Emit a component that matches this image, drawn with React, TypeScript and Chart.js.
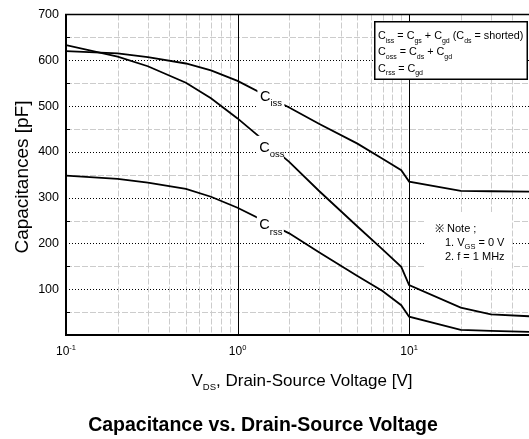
import React, { useEffect, useRef } from "react";
import { Chart, registerables } from "chart.js";

Chart.register(...registerables);

// ---- data ----
const vds = [0.1, 0.2, 0.3, 0.5, 0.7, 1, 2, 3, 5, 7, 9, 10, 20, 30, 50];
const ciss = [620, 615, 607, 593, 578, 555, 497, 461, 418, 385, 360, 335, 315, 314, 313];
const coss = [633, 608, 587, 551, 517, 473, 378, 314, 237, 187, 149, 109, 60, 45, 41];
const crss = [348, 341, 333, 319, 302, 278, 222, 180, 129, 96, 65, 40, 11, 9, 7];

const yMajorTicks = [100, 200, 300, 400, 500, 600, 700];
const yMinorTicks = [50, 150, 250, 350, 450, 550, 650];
const xMajorTicks = [0.1, 1, 10];
const xMajorExp = ["-1", "0", "1"];
const xMinorTicks = [0.2, 0.3, 0.4, 0.5, 0.6, 0.7, 0.8, 0.9, 2, 3, 4, 5, 6, 7, 8, 9, 20, 30, 40];

const curveNames = [["C", "iss"], ["C", "oss"], ["C", "rss"]];
const labelAnchorX = [1.35, 1.34, 1.34];
const labelAnchorY = [512, 400, 231];

const FONT = '"Liberation Sans", Arial, Helvetica, sans-serif';

type Seg = { t: string; sub?: boolean };

function drawRich(ctx: CanvasRenderingContext2D, segs: Seg[], x: number, y: number, size: number, subSize: number, subDy: number) {
  let cx = x;
  for (const s of segs) {
    ctx.font = `${s.sub ? subSize : size}px ${FONT}`;
    ctx.fillText(s.t, cx, s.sub ? y + subDy : y);
    cx += ctx.measureText(s.t).width;
  }
  return cx - x;
}

function richWidth(ctx: CanvasRenderingContext2D, segs: Seg[], size: number, subSize: number) {
  let w = 0;
  for (const s of segs) {
    ctx.font = `${s.sub ? subSize : size}px ${FONT}`;
    w += ctx.measureText(s.t).width;
  }
  return w;
}

const decor = {
  id: "decor",
  beforeDatasetsDraw(chart: any) {
    const { ctx, chartArea: a, scales } = chart;
    const x = scales.x;
    const y = scales.y;
    ctx.save();
    ctx.lineWidth = 1;
    // minor grid (light gray dashed)
    ctx.strokeStyle = "#cccccc";
    ctx.setLineDash([6, 2]);
    for (const v of yMinorTicks) {
      const py = Math.round(y.getPixelForValue(v)) + 0.5;
      ctx.beginPath(); ctx.moveTo(a.left, py); ctx.lineTo(a.right, py); ctx.stroke();
    }
    for (const v of xMinorTicks) {
      const px = Math.round(x.getPixelForValue(v)) + 0.5;
      ctx.beginPath(); ctx.moveTo(px, a.top); ctx.lineTo(px, a.bottom); ctx.stroke();
    }
    // major horizontal grid (black dotted)
    ctx.strokeStyle = "#000";
    ctx.setLineDash([1, 2]);
    for (const v of yMajorTicks) {
      if (v >= 700) continue;
      const py = Math.round(y.getPixelForValue(v)) + 0.5;
      ctx.beginPath(); ctx.moveTo(a.left, py); ctx.lineTo(a.right, py); ctx.stroke();
    }
    // major vertical grid (solid)
    ctx.setLineDash([]);
    for (const v of [1, 10]) {
      const px = Math.round(x.getPixelForValue(v)) + 0.5;
      ctx.beginPath(); ctx.moveTo(px, a.top); ctx.lineTo(px, a.bottom); ctx.stroke();
    }
    // left inner minor ticks
    ctx.lineWidth = 1;
    for (const v of yMinorTicks) {
      const py = Math.round(y.getPixelForValue(v)) + 0.5;
      ctx.beginPath(); ctx.moveTo(a.left, py); ctx.lineTo(a.left + 4, py); ctx.stroke();
    }

    // formula box
    ctx.fillStyle = "#fff";
    ctx.fillRect(374, 21, 154, 59);
    ctx.lineWidth = 1.5;
    ctx.strokeStyle = "#000";
    ctx.strokeRect(374.75, 21.75, 152.5, 57.5);
    ctx.fillStyle = "#000";
    ctx.textBaseline = "alphabetic";
    ctx.textAlign = "left";
    const fs = 10.8, ss = 7, sd = 3.5;
    drawRich(ctx, [{ t: "C" }, { t: "iss", sub: true }, { t: " = C" }, { t: "gs", sub: true }, { t: " + C" }, { t: "gd", sub: true }, { t: " (C" }, { t: "ds", sub: true }, { t: " = shorted)" }], 378, 39, fs, ss, sd);
    drawRich(ctx, [{ t: "C" }, { t: "oss", sub: true }, { t: " = C" }, { t: "ds", sub: true }, { t: " + C" }, { t: "gd", sub: true }], 378, 55, fs, ss, sd);
    drawRich(ctx, [{ t: "C" }, { t: "rss", sub: true }, { t: " = C" }, { t: "gd", sub: true }], 378, 71.5, fs, ss, sd);

    // note area
    ctx.fillStyle = "#fff";
    ctx.fillRect(424, 212, 88, 56);
    ctx.fillStyle = "#000";
    ctx.font = `11px ${FONT}`;
    ctx.fillText("\u203B Note ;", 435, 232);
    drawRich(ctx, [{ t: "1. V" }, { t: "GS", sub: true }, { t: " = 0 V" }], 445, 246, 11, 7.5, 3);
    ctx.font = `11px ${FONT}`;
    ctx.fillText("2. f = 1 MHz", 445, 260);
    ctx.restore();
  },
  afterDatasetsDraw(chart: any) {
    const { ctx, chartArea: a, scales } = chart;
    const x = scales.x;
    const y = scales.y;
    ctx.save();
    // curve labels with white backgrounds
    for (let i = 0; i < curveNames.length; i++) {
      const lx = x.getPixelForValue(labelAnchorX[i]);
      const ly = y.getPixelForValue(labelAnchorY[i]);
      ctx.fillStyle = "#fff";
      ctx.fillRect(lx - 2.5, ly - 16, 27, 24);
      ctx.fillStyle = "#000";
      ctx.textAlign = "left";
      ctx.textBaseline = "alphabetic";
      drawRich(ctx, [{ t: curveNames[i][0] }, { t: curveNames[i][1], sub: true }], lx, ly, 14.5, 9.5, 5.5);
    }

    // axes frame
    ctx.strokeStyle = "#000";
    ctx.setLineDash([]);
    ctx.lineWidth = 2;
    ctx.beginPath(); ctx.moveTo(a.left, a.top); ctx.lineTo(a.left, a.bottom + 1); ctx.stroke();
    ctx.beginPath(); ctx.moveTo(a.left - 1, a.bottom); ctx.lineTo(a.right, a.bottom); ctx.stroke();
    ctx.lineWidth = 1.5;
    ctx.beginPath(); ctx.moveTo(a.left - 1, a.top); ctx.lineTo(a.right, a.top); ctx.stroke();

    // y tick labels
    ctx.fillStyle = "#000";
    ctx.font = `12.5px ${FONT}`;
    ctx.textAlign = "right";
    ctx.textBaseline = "middle";
    for (const v of yMajorTicks) {
      ctx.fillText(String(v), a.left - 7, y.getPixelForValue(v));
    }
    // x tick labels with superscripts
    ctx.textAlign = "left";
    ctx.textBaseline = "alphabetic";
    for (let i = 0; i < xMajorTicks.length; i++) {
      const px = x.getPixelForValue(xMajorTicks[i]);
      ctx.font = `12px ${FONT}`;
      const wb = ctx.measureText("10").width;
      ctx.font = `7.5px ${FONT}`;
      const we = ctx.measureText(xMajorExp[i]).width;
      const sx = px - (wb + we) / 2;
      ctx.font = `12px ${FONT}`;
      ctx.fillText("10", sx, 355);
      ctx.font = `7.5px ${FONT}`;
      ctx.fillText(xMajorExp[i], sx + wb, 350);
    }
    // x axis title
    const xt: Seg[] = [{ t: "V" }, { t: "DS", sub: true }, { t: ", Drain-Source Voltage [V]" }];
    const w = richWidth(ctx, xt, 17, 9.5);
    drawRich(ctx, xt, 302 - w / 2, 386, 17, 9.5, 3.5);
    // y axis title
    ctx.save();
    ctx.translate(28, 177);
    ctx.rotate(-Math.PI / 2);
    ctx.font = `19px ${FONT}`;
    ctx.textAlign = "center";
    ctx.textBaseline = "alphabetic";
    ctx.fillText("Capacitances [pF]", 0, 0);
    ctx.restore();
    // chart caption
    ctx.font = `bold 19.5px ${FONT}`;
    ctx.textAlign = "center";
    ctx.fillText("Capacitance vs. Drain-Source Voltage", 263, 431);
    ctx.restore();
  },
};

export default function App() {
  const ref = useRef<HTMLCanvasElement | null>(null);
  useEffect(() => {
    if (!ref.current) return;
    const mk = (data: number[]) => vds.map((v, i) => ({ x: v, y: data[i] }));
    const ds = (label: string, data: number[]) => ({
      label,
      data: mk(data),
      showLine: true,
      borderColor: "#000",
      backgroundColor: "#000",
      borderWidth: 1.8,
      pointRadius: 0,
      tension: 0,
      fill: false,
    });
    const chart = new Chart(ref.current, {
      type: "scatter",
      data: {
        datasets: [ds("Ciss", ciss), ds("Coss", coss), ds("Crss", crss)],
      },
      options: {
        responsive: false,
        animation: false,
        devicePixelRatio: 1,
        layout: { padding: { left: 66, top: 14.5, right: 0, bottom: 104 } },
        plugins: { legend: { display: false }, tooltip: { enabled: false } },
        scales: {
          x: { type: "logarithmic", min: 0.1, max: 50, display: false },
          y: { type: "linear", min: 0, max: 700, display: false },
        },
      },
      plugins: [decor],
    } as any);
    return () => chart.destroy();
  }, []);
  return (
    <div style={{ position: "absolute", left: 0, top: 0, width: 529, height: 439, background: "#fff" }}>
      <canvas ref={ref} width={529} height={439} style={{ display: "block" }} />
    </div>
  );
}
